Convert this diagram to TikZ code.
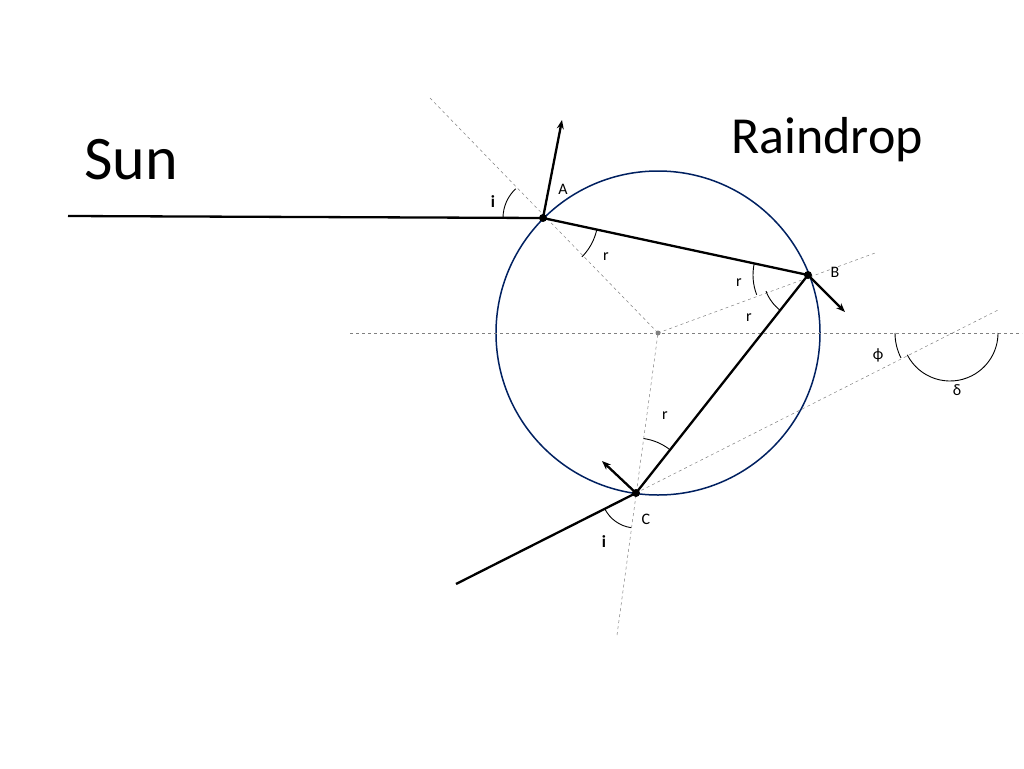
\documentclass[tikz,border=0pt]{standalone}
\usepackage{fontspec}
\setmainfont{Carlito}
\usetikzlibrary{arrows.meta, positioning}
\definecolor{dropblue}{RGB}{0,32,96}
\begin{document}
\begin{tikzpicture}[x=1pt, y=-1pt,
    ray/.style={line width=2.3pt},
    guide/.style={dashed, gray, line width=0.5pt},
    normal/.style={-{Stealth[length=9pt,width=7pt]}, line width=2.3pt},
    angmark/.style={line width=0.9pt},
    lbl/.style={font=\fontsize{16}{16}\selectfont}]
    \useasboundingbox (0,0) rectangle (1024,768);
    % Points
    \coordinate (O) at (658,333);
    \coordinate (A) at (543,218);
    \coordinate (B) at (808,275);
    \coordinate (C) at (636,493);
    \coordinate (P) at (950,333);
    \coordinate (sun) at (68,216);
    \coordinate (out) at (456,584);
    \coordinate (nA) at (562,120);
    \coordinate (nB) at (845,312);
    \coordinate (nC) at (602,461);
    \coordinate (gA) at (430,98);
    \coordinate (gB) at (875,253);
    \coordinate (gC) at (617,635);
    \coordinate (gP) at (1000,309);
    \coordinate (hl) at (350,333);
    \coordinate (hr) at (1022,333);
    % Drop and guides
    \draw[dropblue, line width=1.5pt] (O) circle[radius=162];
    \draw[guide] (gA) -- (O);
    \draw[guide] (O) -- (gB);
    \draw[guide] (gC) -- (O);
    \draw[guide] (hl) -- (hr);
    \draw[guide] (C) -- (gP);
    \fill[gray] (O) circle[radius=2.5];
    % Rays
    \draw[ray] (sun) -- (A) -- (B) -- (C) -- (out);
    \draw[normal] (A) -- (nA);
    \draw[normal] (B) -- (nB);
    \draw[normal] (C) -- (nC);
    \foreach \p in {A,B,C} \fill (\p) circle[radius=4];
    % Angles (y axis points down, so angles run clockwise)
    \draw[angmark] ([shift={(-133:40)}]A) arc[start angle=-133, end angle=-180, radius=40];
    \draw[angmark] ([shift={(45:55)}]A) arc[start angle=45, end angle=12, radius=55];
    \draw[angmark] ([shift={(-168:55)}]B) arc[start angle=-168, end angle=-201, radius=55];
    \draw[angmark] ([shift={(-201:45)}]B) arc[start angle=-201, end angle=-232, radius=45];
    \draw[angmark] ([shift={(-52:55)}]C) arc[start angle=-52, end angle=-82, radius=55];
    \draw[angmark] ([shift={(-207:35)}]C) arc[start angle=-207, end angle=-262, radius=35];
    \draw[angmark] ([shift={(-180:55)}]P) arc[start angle=-180, end angle=-207, radius=55];
    \draw[angmark] ([shift={(-207:48)}]P) arc[start angle=-207, end angle=-360, radius=48];
    % Labels
    \node[font=\fontsize{62}{62}\selectfont] (sunlbl) at (131,160) {Sun};
    \node[font=\fontsize{52}{52}\selectfont] (droplbl) at (827,140) {Raindrop};
    \node[lbl] (lA) at (563,189) {A};
    \node[lbl] (lB) at (835,272) {B};
    \node[lbl] (lC) at (646,519) {C};
    \node[font=\fontsize{17}{17}\selectfont\bfseries] (li1) at (493,202) {i};
    \node[font=\fontsize{17}{17}\selectfont\bfseries] (li2) at (604,542) {i};
    \node[lbl] (lr1) at (606,257) {r};
    \node[lbl] (lr2) at (739,283) {r};
    \node[lbl] (lr3) at (749,318) {r};
    \node[lbl] (lr4) at (665,416) {r};
    \node[lbl] (lphi) at (878,355) {ϕ};
    \node[lbl] (ldelta) at (957,390) {δ};
\end{tikzpicture}
\end{document}
